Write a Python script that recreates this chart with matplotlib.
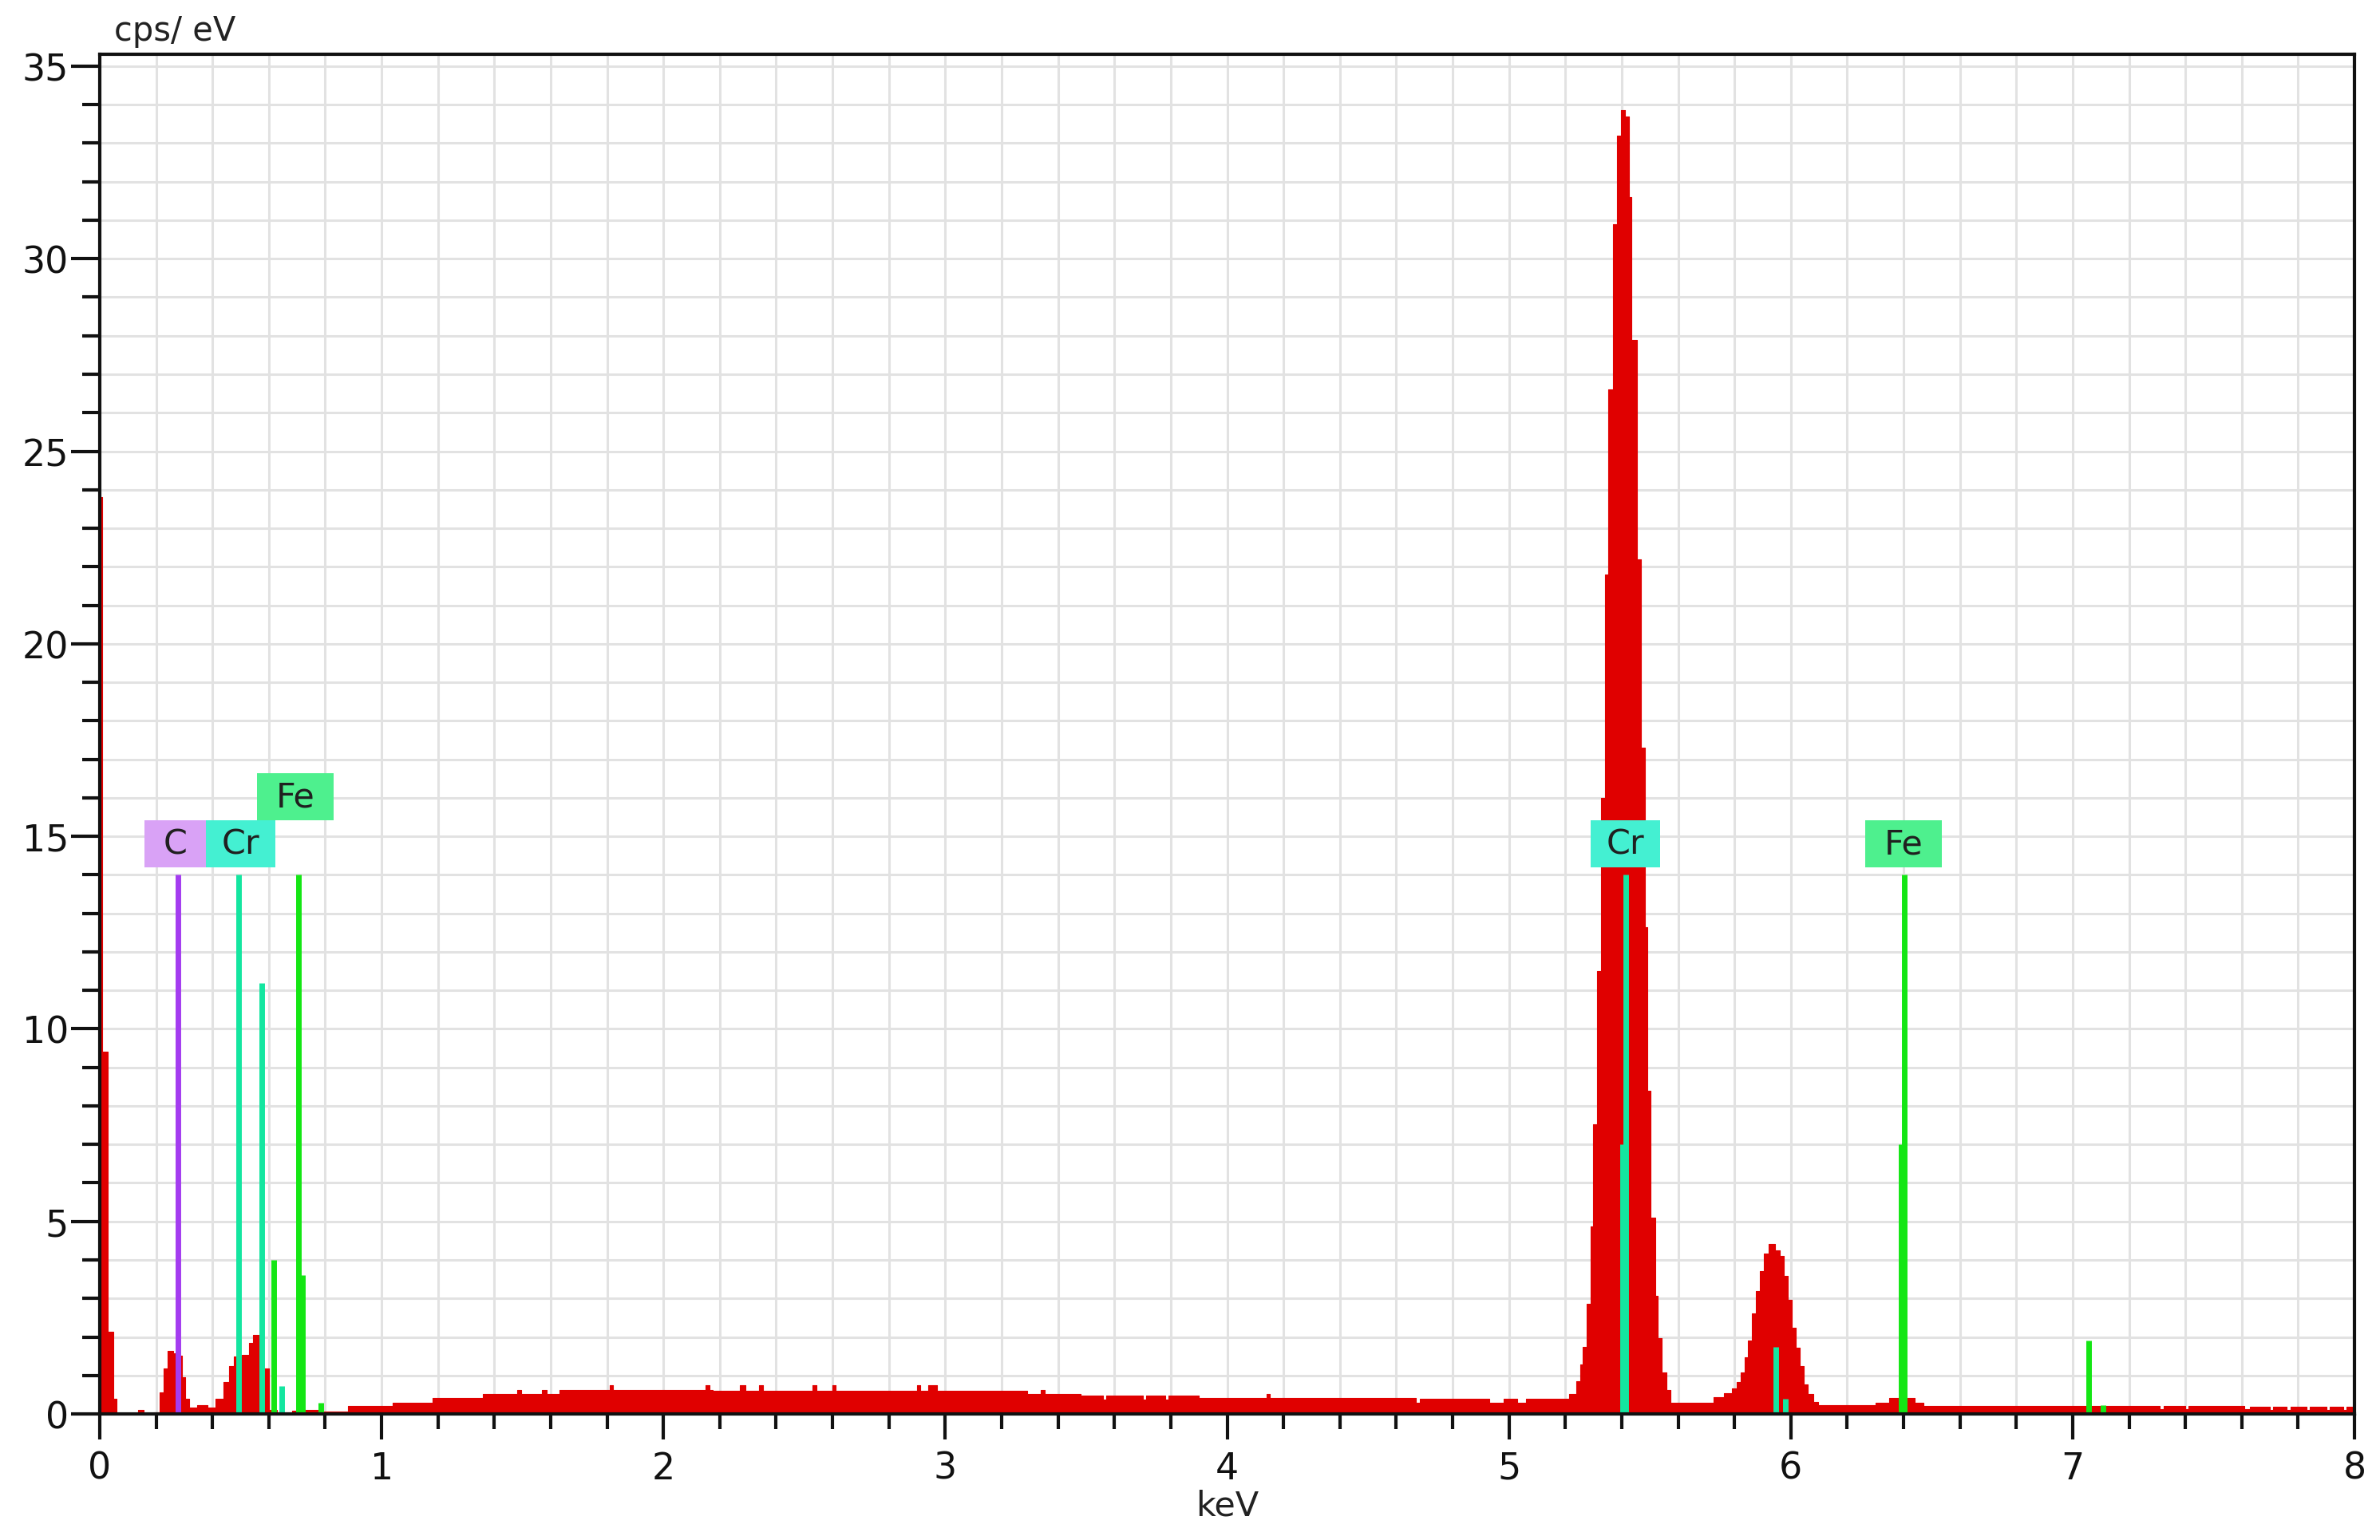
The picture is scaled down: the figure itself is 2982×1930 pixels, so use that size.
import numpy as np
import matplotlib
matplotlib.use('Agg')
import matplotlib.pyplot as plt
from matplotlib.patches import Rectangle
from matplotlib.ticker import MultipleLocator

# EDS spectrum: channel start energy (keV) and cps/eV (step "post")
spec_kev = [0.000, 0.010, 0.028, 0.047, 0.061, 0.137, 0.156, 0.190, 0.212, 0.227,
            0.241, 0.262, 0.279, 0.293, 0.302, 0.316, 0.345, 0.382, 0.411, 0.439,
            0.458, 0.477, 0.505, 0.529, 0.543, 0.566, 0.581, 0.600, 0.628, 0.684,
            0.722, 0.779, 0.880, 1.040, 1.180, 1.360, 1.480, 1.495, 1.570, 1.585,
            1.630, 1.810, 1.822, 2.150, 2.163, 2.175, 2.270, 2.292, 2.340, 2.352,
            2.530, 2.542, 2.600, 2.612, 2.900, 2.912, 2.940, 2.970, 3.290, 3.340,
            3.352, 3.480, 3.560, 3.572, 3.700, 3.712, 3.780, 3.792, 3.900, 4.140,
            4.152, 4.670, 4.685, 4.930, 4.980, 5.030, 5.060, 5.200, 5.214, 5.238,
            5.252, 5.261, 5.275, 5.289, 5.299, 5.313, 5.327, 5.341, 5.351, 5.369,
            5.383, 5.398, 5.412, 5.426, 5.435, 5.454, 5.468, 5.482, 5.492, 5.501,
            5.520, 5.529, 5.543, 5.558, 5.572, 5.727, 5.764, 5.792, 5.807, 5.821,
            5.835, 5.849, 5.863, 5.877, 5.891, 5.905, 5.920, 5.943, 5.962, 5.976,
            5.990, 6.004, 6.018, 6.032, 6.047, 6.061, 6.079, 6.098, 6.300, 6.350,
            6.440, 6.470, 7.310, 7.322, 7.400, 7.412, 7.610, 7.630, 7.700, 7.712,
            7.760, 7.772, 7.830, 7.842, 7.900, 7.912, 7.960, 7.972, 8.000]
spec_cps = [23.8, 9.40, 2.13, 0.39, 0.00, 0.11, 0.00, 0.05, 0.56, 1.18,
            1.63, 1.57, 1.52, 0.96, 0.39, 0.17, 0.22, 0.17, 0.39, 0.84,
            1.24, 1.50, 1.54, 1.85, 2.06, 1.50, 1.18, 0.10, 0.05, 0.08,
            0.10, 0.07, 0.20, 0.30, 0.41, 0.52, 0.63, 0.52, 0.63, 0.52,
            0.62, 0.74, 0.62, 0.74, 0.62, 0.60, 0.74, 0.60, 0.74, 0.60,
            0.74, 0.60, 0.74, 0.60, 0.74, 0.60, 0.74, 0.60, 0.51, 0.63,
            0.51, 0.47, 0.38, 0.47, 0.38, 0.47, 0.38, 0.47, 0.41, 0.51,
            0.41, 0.30, 0.40, 0.30, 0.40, 0.30, 0.40, 0.40, 0.51, 0.85,
            1.29, 1.74, 2.85, 4.86, 7.53, 11.5, 16.0, 21.8, 26.6, 30.9,
            33.2, 33.86, 33.7, 31.6, 27.9, 22.2, 17.3, 12.65, 8.4, 5.1,
            3.07, 1.96, 1.07, 0.62, 0.30, 0.43, 0.55, 0.66, 0.83, 1.07,
            1.48, 1.90, 2.62, 3.20, 3.72, 4.17, 4.41, 4.24, 4.10, 3.59,
            2.97, 2.24, 1.72, 1.24, 0.76, 0.52, 0.31, 0.22, 0.29, 0.41,
            0.29, 0.20, 0.12, 0.20, 0.12, 0.20, 0.12, 0.18, 0.10, 0.18,
            0.10, 0.18, 0.10, 0.18, 0.10, 0.18, 0.10, 0.18, 0.18]

# element marker lines: element, energy (keV), height (cps/eV)
line_el = ['C', 'Cr', 'Cr', 'Fe', 'Cr', 'Fe', 'Fe', 'Fe',
           'Cr', 'Cr', 'Cr', 'Cr', 'Fe', 'Fe', 'Fe', 'Fe']
line_kev = [0.277, 0.492, 0.574, 0.618, 0.647, 0.705, 0.718, 0.784,
            5.404, 5.414, 5.946, 5.980, 6.391, 6.403, 7.057, 7.107]
line_cps = [14.0, 14.0, 11.2, 4.0, 0.73, 14.0, 3.6, 0.3,
            7.0, 14.0, 1.74, 0.40, 7.0, 14.0, 1.9, 0.22]

# element labels
label_el = ['C', 'Cr', 'Fe', 'Cr', 'Fe']
label_kev = [0.268, 0.500, 0.694, 5.413, 6.400]

line_col = {'C': '#A43CF0', 'Cr': '#14E6A0', 'Fe': '#14E614'}
box_col = {'C': '#D9A2F6', 'Cr': '#44F0D2', 'Fe': '#4EF08E'}
box_w = {'C': 0.22, 'Cr': 0.245, 'Fe': 0.272}
label_row = [0, 0, 1, 0, 0]

fig = plt.figure(figsize=(29.82, 19.31), dpi=100)
ax = fig.add_axes([0.0419, 0.0818, 0.9474, 0.8825])

ax.fill_between(spec_kev, spec_cps, step='post', facecolor='#E00000',
                edgecolor='#E00000', lw=0.8, zorder=2)

for el, e, h in zip(line_el, line_kev, line_cps):
    ax.vlines(e, 0, h, color=line_col[el], lw=5, zorder=3)

box_h = 1.22
for el, e, row in zip(label_el, label_kev, label_row):
    y0 = 14.19 + row * box_h
    w = box_w[el]
    ax.add_patch(Rectangle((e - w / 2, y0), w, box_h, facecolor=box_col[el],
                           edgecolor='none', zorder=4))
    ax.text(e, y0 + box_h / 2, el, ha='center', va='center', fontsize=31,
            color='#202020', zorder=5)

ax.set_xlim(0, 8)
ax.set_ylim(0, 35.31)
ax.xaxis.set_major_locator(MultipleLocator(1))
ax.xaxis.set_minor_locator(MultipleLocator(0.2))
ax.yaxis.set_major_locator(MultipleLocator(5))
ax.yaxis.set_minor_locator(MultipleLocator(1))
ax.grid(which='both', color='#E2E2E2', lw=2.2)
ax.set_axisbelow(True)

for s in ax.spines.values():
    s.set_linewidth(3)
    s.set_color('#111111')
    s.set_zorder(6)

ax.tick_params(axis='x', which='major', direction='out', length=23, width=3,
               labelsize=33, pad=10, colors='#111111')
ax.tick_params(axis='x', which='minor', direction='out', length=14, width=3,
               colors='#111111')
ax.tick_params(axis='y', which='major', direction='out', length=26, width=3,
               labelsize=33, pad=2, colors='#111111')
ax.tick_params(axis='y', which='minor', direction='out', length=16, width=3,
               colors='#111111')

ax.set_xlabel('keV', fontsize=31, color='#222222', labelpad=2)
fig.text(0.048, 0.980, 'cps/ eV', fontsize=30, color='#222222', ha='left', va='center')

fig.savefig('out.png', dpi=100, facecolor='white')
